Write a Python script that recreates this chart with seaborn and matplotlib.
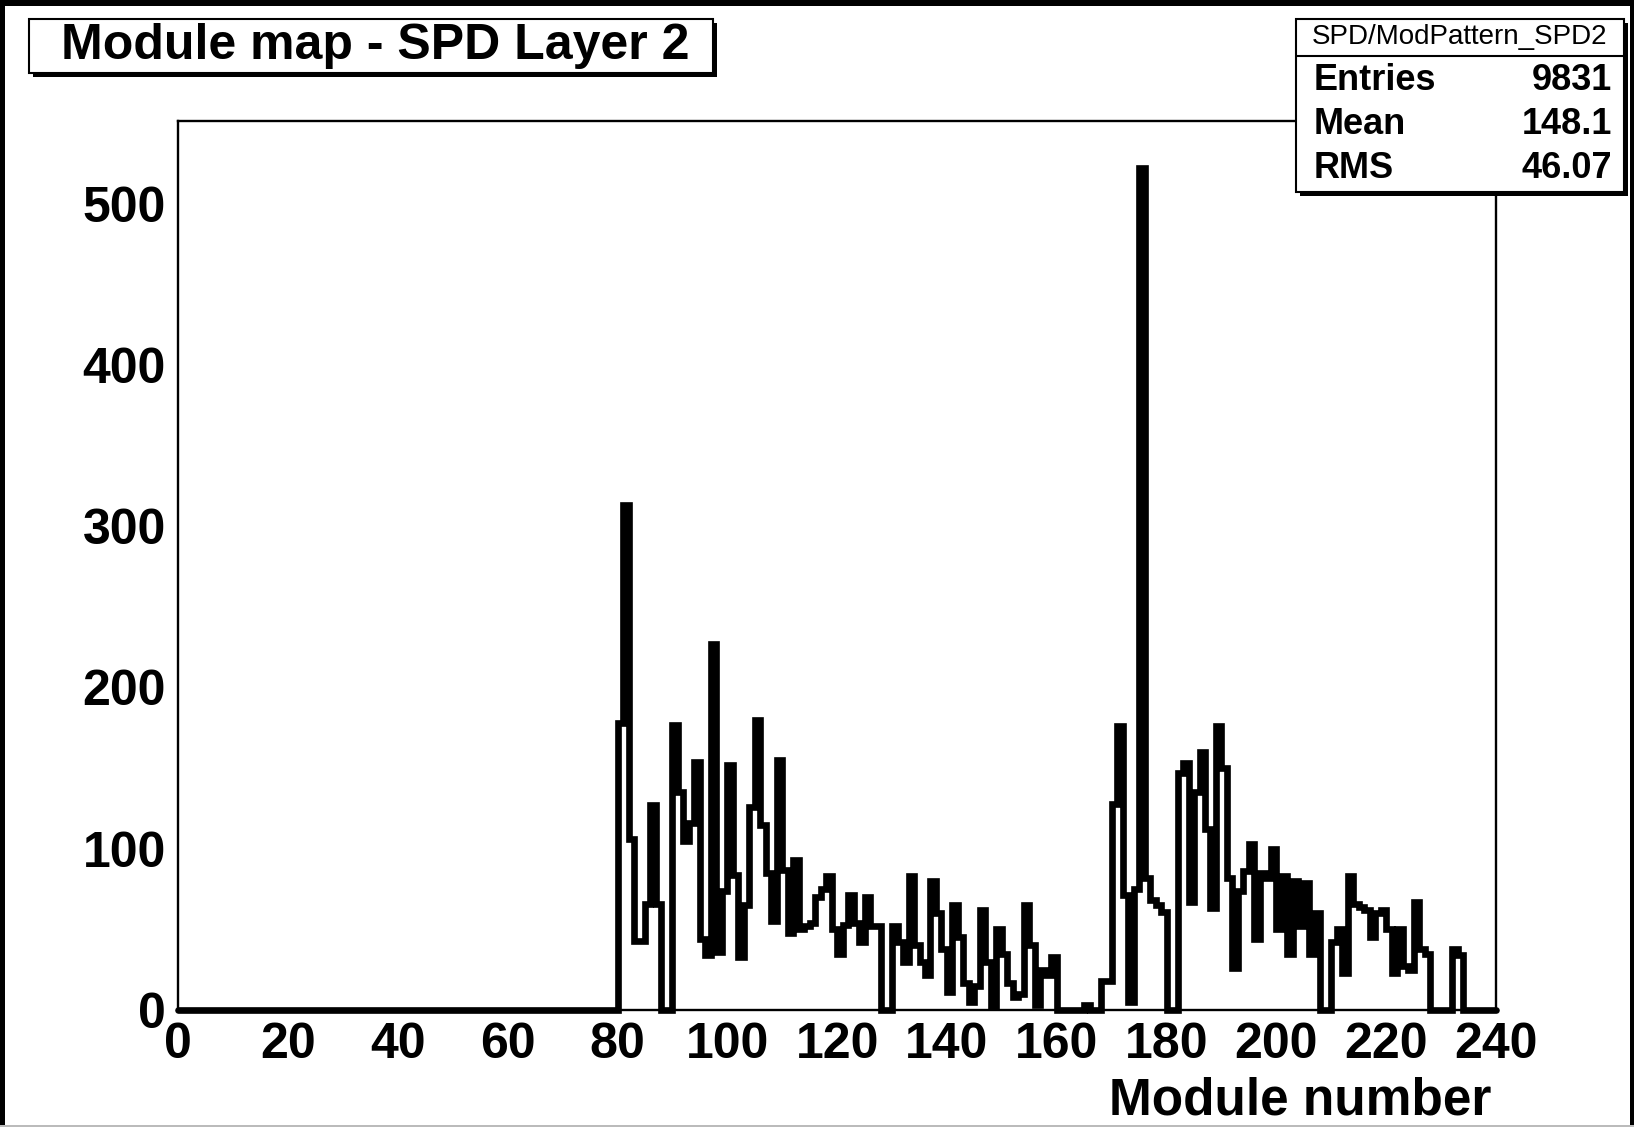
import numpy as np
import pandas as pd
import matplotlib
matplotlib.use("Agg")
import matplotlib.pyplot as plt
import seaborn as sns
from matplotlib.patches import Rectangle
from matplotlib.ticker import MultipleLocator

# ---- data (bin = module number, width 1) ----
modules = list(range(80, 234))
counts = [
    178, 313, 106, 43, 43, 66, 127, 66, 0, 0,
    177, 135, 105, 116, 154, 44, 34, 227, 36, 74,
    152, 84, 33, 65, 126, 180, 115, 85, 55, 155,
    87, 48, 93, 50, 52, 54, 70, 75, 83, 50,
    35, 53, 71, 54, 42, 70, 52, 52, 0, 0,
    52, 42, 30, 83, 40, 30, 22, 80, 60, 38,
    11, 65, 45, 17, 5, 15, 62, 30, 2, 50,
    35, 17, 8, 10, 65, 40, 3, 25, 22, 33,
    0, 0, 0, 0, 0, 3, 0, 0, 18, 18,
    128, 176, 71, 5, 75, 522, 82, 68, 65, 61,
    0, 0, 147, 153, 67, 135, 160, 112, 63, 176,
    150, 82, 26, 74, 86, 103, 44, 85, 82, 100,
    50, 83, 35, 80, 52, 79, 35, 60, 0, 0,
    42, 50, 23, 83, 66, 64, 62, 45, 60, 62,
    50, 23, 50, 27, 25, 67, 38, 35, 0, 0,
    0, 0, 38, 34,
]
x_ticks = list(range(0, 241, 20))
y_ticks = list(range(0, 501, 100))
title = "Module map - SPD Layer 2"
x_title = "Module number"
stat_name = "SPD/ModPattern_SPD2"
stat_labels = ["Entries", "Mean", "RMS"]
stat_values = ["9831", "148.1", "46.07"]

df = pd.DataFrame({"module": modules, "count": counts})

sns.set_style("white")
plt.rcParams["font.family"] = ["Liberation Sans", "DejaVu Sans"]
plt.rcParams["text.color"] = "black"
plt.rcParams["xtick.color"] = "black"
plt.rcParams["ytick.color"] = "black"

W, H = 1634, 1127
fig = plt.figure(figsize=(W / 100, H / 100), dpi=100)
fig.patch.set_facecolor("white")

def fx(x):
    return x / W

def fy(y):
    return 1 - y / H

L, R, T, B = 178.3, 1496.0, 120.5, 1010.0
ax = fig.add_axes([fx(L), fy(B), fx(R - L), (B - T) / H])

sns.histplot(data=df, x="module", weights="count", bins=240, binrange=(0, 240),
             element="step", fill=False, color="black", linewidth=4.8, ax=ax)
for ln in ax.lines:
    ln.set_clip_on(False)
    ln.set_solid_joinstyle("miter")

ax.set_xlim(0, 240)
ax.set_ylim(0, 551.5)
ax.set_xlabel("")
ax.set_ylabel("")
ax.set_xticks(x_ticks)
ax.set_yticks(y_ticks)
ax.xaxis.set_minor_locator(MultipleLocator(5))
ax.yaxis.set_minor_locator(MultipleLocator(20))
for s in ax.spines.values():
    s.set_linewidth(1.7)
    s.set_color("black")
ax.tick_params(which="both", direction="in", top=False, right=False,
               width=1.5, color="black", labelcolor="black")
ax.tick_params(axis="x", which="major", length=19.2, pad=8.4)
ax.tick_params(axis="x", which="minor", length=9.6)
ax.tick_params(axis="y", which="major", length=28.8, pad=9)
ax.tick_params(axis="y", which="minor", length=14.4)
for lab in ax.get_xticklabels() + ax.get_yticklabels():
    lab.set_fontsize(36)
    lab.set_fontweight("bold")
    lab.set_color("black")

fig.text(fx(1491), fy(1101), x_title, ha="right", va="center",
         fontsize=37, fontweight="bold", color="black")

# canvas border
fig.add_artist(Rectangle((0, fy(6)), 1, 6 / H, transform=fig.transFigure,
                         facecolor="black", edgecolor="none"))
fig.add_artist(Rectangle((0, 0), fx(5), 1, transform=fig.transFigure,
                         facecolor="black", edgecolor="none"))
fig.add_artist(Rectangle((fx(W - 4), 0), fx(4), 1, transform=fig.transFigure,
                         facecolor="black", edgecolor="none"))
fig.add_artist(Rectangle((0, 0), 1, 2 / H, transform=fig.transFigure,
                         facecolor="#bbbbbb", edgecolor="none"))

def box(x0, y0, x1, y1, sh=4):
    fig.add_artist(Rectangle((fx(x0 + sh), fy(y1 + sh)), fx(x1 - x0), (y1 - y0) / H,
                             transform=fig.transFigure, facecolor="black",
                             edgecolor="none", zorder=5))
    fig.add_artist(Rectangle((fx(x0), fy(y1)), fx(x1 - x0), (y1 - y0) / H,
                             transform=fig.transFigure, facecolor="white",
                             edgecolor="black", linewidth=1.5, zorder=6))

# title box
box(29, 19, 713, 73)
fig.text(fx(61), fy(46), title, ha="left", va="center", fontsize=36,
         fontweight="bold", color="black", zorder=7)

# stat box
box(1296, 19, 1624, 192)
fig.add_artist(plt.Line2D([fx(1296), fx(1624)], [fy(56), fy(56)],
                          transform=fig.transFigure, color="black",
                          linewidth=1.5, zorder=7))
fig.text(fx(1460), fy(37), stat_name, ha="center", va="center", fontsize=20,
         color="black", zorder=7)
for i, (lab, val) in enumerate(zip(stat_labels, stat_values)):
    yy = 81 + i * 44
    fig.text(fx(1314), fy(yy), lab, ha="left", va="center", fontsize=26,
             fontweight="bold", color="black", zorder=7)
    fig.text(fx(1612), fy(yy), val, ha="right", va="center", fontsize=26,
             fontweight="bold", color="black", zorder=7)

fig.savefig("out.png", dpi=100, facecolor="white")
